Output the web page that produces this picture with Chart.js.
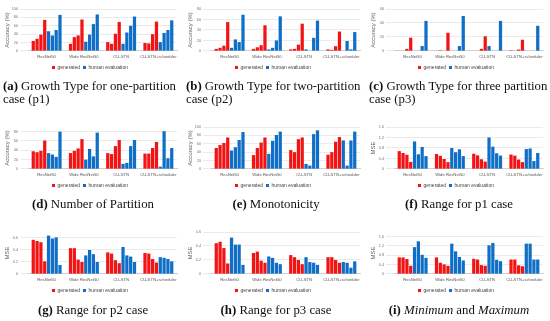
<!DOCTYPE html>
<html>
<head>
<meta charset="utf-8">
<script src="https://cdn.jsdelivr.net/npm/chart.js@4"></script>
<style>
  body { margin: 0; width: 550px; height: 321px; background: #fff; position: relative; overflow: hidden; }
  .cell { position: absolute; }
  .cap { position: absolute; font-family: "Liberation Serif", serif; font-size: 12.8px; color: #111; line-height: 13px; }
  .cap b { font-weight: bold; }
</style>
</head>
<body>
<script>
const categories = ["ResNet50", "Wide ResNet50", "CU-STN", "CU-STN+scheduler"];

// rows = categories, columns = the 4 bars of each colour
const p1Gen = [[24, 29, 39, 74], [17, 33, 37, 75], [21, 17, 41, 69], [19, 18, 40, 70]];
const p1Human = [[47, 37, 50, 86], [22, 39, 64, 87], [17, 44, 60, 82], [21, 43, 50, 73]];

const p2Gen = [[4, 6, 10, 55], [4, 7, 11, 49], [3, 4, 12, 52], [3, 2, 9, 37]];
const p2Human = [[6, 22, 17, 69], [3, 6, 20, 66], [3, 0, 25, 58], [0, 19, 3, 36]];

const p3Gen = [[0, 0, 3, 19], [0, 1, 0, 26], [0, 0, 3, 21], [1, 0, 2, 16]];
const p3Human = [[0, 0, 7, 43], [0, 0, 7, 50], [7, 0, 0, 43], [0, 0, 0, 36]];

const partGen = [[38, 36, 39, 61], [34, 39, 44, 64], [34, 32, 49, 62], [33, 33, 45, 58]];
const partHuman = [[34, 31, 26, 80], [20, 43, 27, 78], [11, 13, 49, 62], [5, 81, 23, 45]];

const monoGen = [[50, 57, 62, 75], [33, 50, 63, 75], [45, 40, 71, 75], [34, 40, 65, 76]];
const monoHuman = [[44, 52, 69, 88], [36, 67, 81, 89], [12, 8, 83, 92], [68, 8, 68, 89]];

const r1Gen = [[0.68, 0.61, 0.54, 0.27], [0.57, 0.5, 0.38, 0.26], [0.58, 0.52, 0.37, 0.28], [0.55, 0.51, 0.36, 0.26]];
const r1Human = [[1.05, 0.56, 0.84, 0.49], [0.8, 0.64, 0.75, 0.49], [1.2, 0.85, 0.6, 0.51], [0.76, 0.78, 0.3, 0.61]];

const r2Gen = [[0.57, 0.55, 0.53, 0.21], [0.43, 0.43, 0.24, 0.2], [0.36, 0.34, 0.23, 0.18], [0.35, 0.34, 0.25, 0.19]];
const r2Human = [[0.64, 0.59, 0.61, 0.15], [0.31, 0.4, 0.33, 0.2], [0.45, 0.31, 0.29, 0.2], [0.28, 0.27, 0.25, 0.21]];

const r3Gen = [[0.44, 0.46, 0.37, 0.15], [0.3, 0.32, 0.19, 0.16], [0.27, 0.24, 0.2, 0.14], [0.24, 0.24, 0.2, 0.16]];
const r3Human = [[0.52, 0.42, 0.42, 0.13], [0.25, 0.23, 0.16, 0.14], [0.24, 0.17, 0.16, 0.13], [0.17, 0.16, 0.09, 0.18]];

const mmGen = [[0.71, 0.71, 0.64, 0.35], [0.71, 0.48, 0.41, 0.35], [0.65, 0.62, 0.38, 0.35], [0.62, 0.62, 0.37, 0.33]];
const mmHuman = [[1.15, 1.4, 0.82, 0.69], [1.3, 0.97, 0.73, 0.58], [1.23, 1.33, 0.61, 0.55], [1.3, 1.3, 0.62, 0.62]];

const panels = [
  { gen: p1Gen, human: p1Human, max: 100, step: 10, yTitle: "Accuracy (%)", cap: "<b>(a)</b> Growth Type for one-partition case (p1)", align: "left" },
  { gen: p2Gen, human: p2Human, max: 80, step: 10, yTitle: "Accuracy (%)", cap: "<b>(b)</b> Growth Type for two-partition case (p2)", align: "left" },
  { gen: p3Gen, human: p3Human, max: 60, step: 10, yTitle: "Accuracy (%)", cap: "<b>(c)</b> Growth Type for three partition case (p3)", align: "left" },
  { gen: partGen, human: partHuman, max: 90, step: 10, yTitle: "Accuracy (%)", cap: "<b>(d)</b> Number of Partition", align: "center" },
  { gen: monoGen, human: monoHuman, max: 100, step: 10, yTitle: "Accuracy (%)", cap: "<b>(e)</b> Monotonicity", align: "center" },
  { gen: r1Gen, human: r1Human, max: 1.6, step: 0.2, yTitle: "MSE", cap: "<b>(f)</b> Range for p1 case", align: "center" },
  { gen: r2Gen, human: r2Human, max: 0.7, step: 0.1, yTitle: "MSE", cap: "<b>(g)</b> Range for p2 case", align: "center" },
  { gen: r3Gen, human: r3Human, max: 0.6, step: 0.1, yTitle: "MSE", cap: "<b>(h)</b> Range for p3 case", align: "center" },
  { gen: mmGen, human: mmHuman, max: 1.8, step: 0.2, yTitle: "MSE", cap: "<b>(i)</b> <i>Minimum</i> and <i>Maximum</i>", align: "center" }
];

const RED = "#f21414";
const BLUE = "#0f6fc6";
const colLeft = [0, 183, 366];
const rowTop = [0, 118, 223];
const capTop = [80, 198, 304];

function buildDatasets(gen, human) {
  const ds = [];
  for (let k = 0; k < 4; k++) {
    ds.push({ label: "generated", data: gen.map((row) => row[k]), backgroundColor: RED });
  }
  for (let k = 0; k < 4; k++) {
    ds.push({ label: "human evaluation", data: human.map((row) => row[k]), backgroundColor: BLUE });
  }
  return ds;
}

panels.forEach((p, i) => {
  const col = i % 3;
  const row = Math.floor(i / 3);

  const div = document.createElement("div");
  div.className = "cell";
  div.style.left = colLeft[col] + "px";
  div.style.top = rowTop[row] + "px";
  const canvas = document.createElement("canvas");
  canvas.width = 183;
  canvas.height = 81;
  div.appendChild(canvas);
  document.body.appendChild(div);

  const cap = document.createElement("div");
  cap.className = "cap";
  cap.style.left = colLeft[col] + 3 + "px";
  cap.style.top = capTop[row] + "px";
  cap.style.width = "180px";
  cap.style.textAlign = p.align;
  cap.innerHTML = p.cap;
  document.body.appendChild(cap);

  new Chart(canvas.getContext("2d"), {
    type: "bar",
    data: { labels: categories, datasets: buildDatasets(p.gen, p.human) },
    options: {
      responsive: false,
      animation: false,
      devicePixelRatio: 1,
      layout: { padding: { top: 9, left: 3, right: 6, bottom: 1 } },
      datasets: { bar: { categoryPercentage: 0.82, barPercentage: 0.85 } },
      plugins: {
        tooltip: { enabled: false },
        legend: {
          position: "bottom",
          labels: {
            filter: (item) => item.datasetIndex === 0 || item.datasetIndex === 4,
            boxWidth: 3,
            boxHeight: 3,
            padding: 3,
            color: "#444",
            font: { size: 5, family: "Liberation Sans" }
          }
        }
      },
      scales: {
        x: {
          grid: { display: false, drawTicks: false, tickLength: 0 },
          border: { color: "#d0d0d0" },
          ticks: { autoSkip: false, color: "#555", font: { size: 4.2, family: "Liberation Sans" }, padding: 3, maxRotation: 0, minRotation: 0 }
        },
        y: {
          min: 0,
          max: p.max,
          grid: { color: "#dedede", lineWidth: 0.6 },
          border: { display: false },
          ticks: { stepSize: p.step, color: "#777", font: { size: 3.8, family: "Liberation Sans" }, padding: 2 },
          title: { display: true, text: p.yTitle, color: "#666", padding: 1, font: { size: 6, family: "Liberation Sans" } },
          afterFit: (s) => { s.width = 25; }
        }
      }
    }
  });
});
</script>
</body>
</html>
